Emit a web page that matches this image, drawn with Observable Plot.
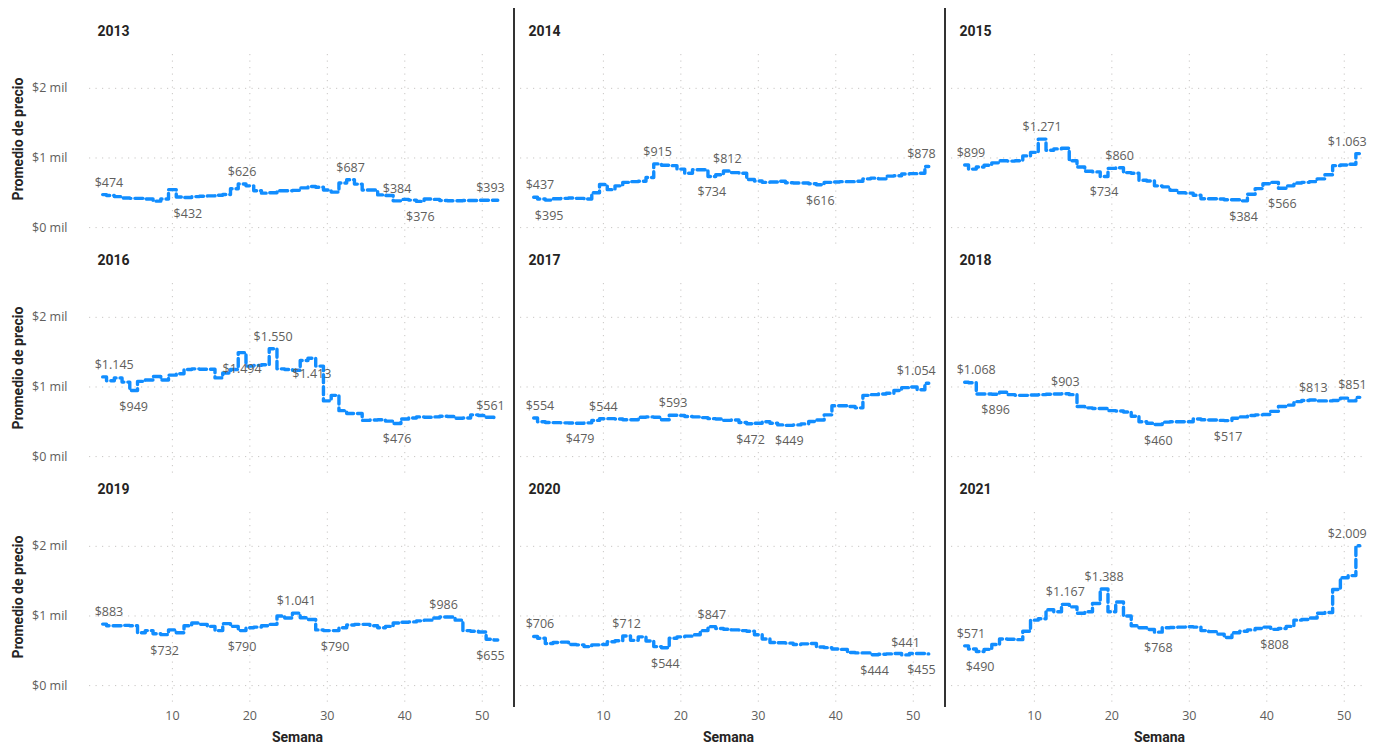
<!DOCTYPE html>
<html>
<head>
<meta charset="utf-8">
<script src="https://cdn.jsdelivr.net/npm/d3@7"></script>
<script src="https://cdn.jsdelivr.net/npm/@observablehq/plot@0.6"></script>
<style>
  html, body { margin: 0; padding: 0; background: #ffffff; }
  #chart { width: 1383px; height: 749px; }
</style>
</head>
<body>
<div id="chart"></div>
<script>
// ---------- DATA ----------
const years = [2013, 2014, 2015, 2016, 2017, 2018, 2019, 2020, 2021];
const weeks = [1,2,3,4,5,6,7,8,9,10,11,12,13,14,15,16,17,18,19,20,21,22,23,24,25,26,
               27,28,29,30,31,32,33,34,35,36,37,38,39,40,41,42,43,44,45,46,47,48,49,50,51,52];
const xTicks = [10, 20, 30, 40, 50];
const yTicks = [0, 1000, 2000];

const price2013 = [474,460,445,425,420,420,410,380,410,545, 440,432,445,450,455,465,475,557,626,600,
                   530,495,500,530,530,535,570,590,580,540, 510,640,687,625,540,540,470,460,384,405,
                   395,376,410,405,390,385,385,390,390,392, 392,393];
const price2014 = [437,410,395,415,420,425,420,410,500,620, 545,600,650,660,665,720,915,895,890,840,
                   780,830,830,734,760,812,790,780,690,670, 650,655,665,645,640,640,630,616,650,655,
                   660,660,665,700,710,700,740,745,770,775, 780,878];
const price2015 = [899,840,870,895,930,960,955,960,1030,1080, 1271,1110,1130,1140,960,870,810,800,734,850,
                   860,790,780,680,670,600,585,535,500,495, 465,415,415,410,400,400,384,480,560,630,
                   650,566,600,640,650,660,700,760,890,900, 910,1063];
const price2016 = [1145,1090,1130,1070,949,1080,1100,1150,1100,1170, 1190,1250,1260,1255,1255,1130,1200,1250,1494,1300,
                   1310,1320,1550,1260,1250,1240,1380,1413,1300,800, 880,660,620,620,520,525,530,510,476,540,
                   555,570,565,570,580,575,550,555,600,590, 565,561];
const price2017 = [554,500,490,488,485,482,479,485,520,544, 545,540,530,530,565,570,565,530,593,590,
                   575,570,560,545,540,520,525,490,472,480, 500,480,455,449,455,470,505,525,600,730,
                   730,720,700,880,890,900,910,950,990,1000, 960,1054];
const price2018 = [1068,1060,900,900,896,925,890,880,880,885, 890,895,900,903,890,720,700,690,690,660,
                   655,640,580,500,480,460,495,500,500,500, 540,530,525,520,517,550,570,590,600,605,
                   650,720,740,790,805,813,800,800,805,840, 800,851];
const price2019 = [883,860,860,865,860,760,790,745,732,800, 760,860,900,880,850,790,890,850,790,830,
                   840,860,880,1000,970,1041,975,950,800,790, 790,830,870,880,880,860,830,850,900,910,
                   915,930,940,970,986,985,940,790,780,770, 665,655];
const price2020 = [706,680,605,620,625,590,585,560,585,590, 630,645,712,650,700,640,560,544,680,700,
                   710,730,790,847,820,810,800,790,780,730, 670,620,615,610,590,600,605,555,545,525,
                   520,475,470,470,444,450,455,460,441,460, 460,455];
const price2021 = [571,525,490,520,590,670,665,660,780,940, 960,1090,1060,1167,1130,1040,1060,1180,1388,1060,
                   1200,1000,860,830,805,768,830,835,840,845, 840,790,775,740,690,760,780,800,820,840,
                   808,820,850,940,950,970,1040,1050,1380,1550, 1580,2009];

// weeks that carry a data label, and whether it sits above or below the line
const labelWeeks2013 = [1, 12, 19, 33, 39, 42, 52];
const labelSide2013  = ["top","bottom","top","top","top","bottom","top"];
const labelWeeks2014 = [1, 3, 17, 24, 26, 38, 52];
const labelSide2014  = ["top","bottom","top","bottom","top","bottom","top"];
const labelWeeks2015 = [1, 11, 19, 21, 37, 42, 52];
const labelSide2015  = ["top","top","bottom","top","bottom","bottom","top"];
const labelWeeks2016 = [1, 5, 19, 23, 28, 39, 52];
const labelSide2016  = ["top","bottom","bottom","top","bottom","bottom","top"];
const labelWeeks2017 = [1, 7, 10, 19, 29, 34, 52];
const labelSide2017  = ["top","bottom","top","top","bottom","bottom","top"];
const labelWeeks2018 = [1, 5, 14, 26, 35, 46, 52];
const labelSide2018  = ["top","bottom","top","bottom","bottom","top","top"];
const labelWeeks2019 = [1, 9, 19, 26, 31, 45, 52];
const labelSide2019  = ["top","bottom","bottom","top","bottom","top","bottom"];
const labelWeeks2020 = [1, 13, 18, 24, 45, 49, 52];
const labelSide2020  = ["top","top","bottom","top","bottom","top","bottom"];
const labelWeeks2021 = [1, 3, 14, 19, 26, 41, 52];
const labelSide2021  = ["top","bottom","top","top","bottom","bottom","top"];

const series = [price2013, price2014, price2015, price2016, price2017, price2018, price2019, price2020, price2021];
const labelWeeks = [labelWeeks2013, labelWeeks2014, labelWeeks2015, labelWeeks2016, labelWeeks2017, labelWeeks2018, labelWeeks2019, labelWeeks2020, labelWeeks2021];
const labelSides = [labelSide2013, labelSide2014, labelSide2015, labelSide2016, labelSide2017, labelSide2018, labelSide2019, labelSide2020, labelSide2021];

// ---------- TABLES ----------
const loc = d3.formatLocale({decimal: ",", thousands: ".", grouping: [3], currency: ["$", ""]});
const fmt = loc.format("$,.0f");

const panels = years.map((yr, i) => ({year: String(yr), col: i % 3, row: Math.floor(i / 3)}));
const rows = [];
const labels = [];
years.forEach((yr, i) => {
  const p = panels[i];
  series[i].forEach((v, j) => rows.push({year: yr, col: p.col, row: p.row, week: weeks[j], price: v}));
  labelWeeks[i].forEach((w, k) => {
    const v = series[i][weeks.indexOf(w)];
    labels.push({
      col: p.col, row: p.row, week: w, price: v, text: fmt(v), side: labelSides[i][k],
      anchor: w === weeks[0] ? "start" : w === weeks[weeks.length - 1] ? "end" : "middle"
    });
  });
});

const FONT = "'Segoe UI', 'Open Sans', 'Noto Sans', sans-serif";
const TITLE_FONT = "Roboto, 'DejaVu Sans', sans-serif";
const BLUE = "#118DFF";
const GRID = "#C8C6C4";
const LABEL = "#605E5C";
const DARK = "#252423";
const DASH = "8,4";

function labelMarks() {
  const out = [];
  for (const anchor of ["start", "middle", "end"]) {
    for (const side of ["top", "bottom"]) {
      out.push(Plot.text(labels.filter(d => d.anchor === anchor && d.side === side), {
        fx: "col", fy: "row", x: "week", y: "price", text: "text",
        textAnchor: anchor, lineAnchor: "middle",
        dx: anchor === "start" ? -8 : anchor === "end" ? 7 : 0,
        dy: side === "top" ? -12 : 16,
        fill: LABEL, fontSize: 12.5, fontFamily: FONT
      }));
    }
  }
  return out;
}

const leftPanels = panels.filter(p => p.col === 0);
const bottomPanels = panels.filter(p => p.row === 2);

const plot = Plot.plot({
  width: 1383,
  height: 749,
  marginLeft: 88,
  marginRight: 14,
  marginTop: 53,
  marginBottom: 44,
  style: {fontFamily: FONT, fontSize: "12.5px", color: LABEL, background: "#ffffff", overflow: "visible"},
  x: {domain: [-0.7, 53.0]},
  y: {domain: [-257, 2486]},
  fx: {domain: [0, 1, 2], paddingInner: 0.0347, paddingOuter: 0, axis: null},
  fy: {domain: [0, 1, 2], paddingInner: 0.1652, paddingOuter: 0, axis: null},
  marks: [
    Plot.gridX(xTicks, {stroke: GRID, strokeOpacity: 1, strokeWidth: 1, strokeDasharray: "1.2,5.3"}),
    Plot.gridY(yTicks, {stroke: GRID, strokeOpacity: 1, strokeWidth: 1, strokeDasharray: "1.2,5.3"}),
    Plot.axisX(xTicks, {tickSize: 0, tickPadding: 8, label: null, fontSize: 12.5}),
    Plot.axisY(yTicks, {tickSize: 0, tickPadding: 22, label: null, fontSize: 12.5,
                        tickFormat: d => `$${d / 1000} mil`}),
    Plot.lineY(rows, {
      fx: "col", fy: "row", x: "week", y: "price", z: "year",
      curve: "step", stroke: BLUE, strokeWidth: 3.4, strokeDasharray: DASH
    }),
    ...labelMarks(),
    Plot.text(panels, {
      fx: "col", fy: "row", text: "year", frameAnchor: "top-left",
      textAnchor: "start", lineAnchor: "middle", dx: 8, dy: -22.5,
      fontWeight: 700, fontSize: 14, fill: DARK, fontFamily: TITLE_FONT
    }),
    Plot.text(leftPanels, {
      fx: "col", fy: "row", text: () => "Promedio de precio", frameAnchor: "left",
      rotate: -90, textAnchor: "middle", lineAnchor: "middle", dx: -71, dy: -11,
      fontWeight: 700, fontSize: 14, fill: DARK, fontFamily: TITLE_FONT
    }),
    Plot.text(bottomPanels, {
      fx: "col", fy: "row", text: () => "Semana", frameAnchor: "bottom",
      textAnchor: "middle", lineAnchor: "middle", dy: 34,
      fontWeight: 700, fontSize: 14, fill: DARK, fontFamily: TITLE_FONT
    })
  ]
});

const svg = d3.select(plot.tagName.toLowerCase() === "svg" ? plot : plot.querySelector("svg"));
// make sure the dash pattern lands on every line path
svg.selectAll("g[aria-label='line'] path")
  .attr("stroke-dasharray", DASH);

// column dividers, placed from the facet scale
const fxScale = plot.scale("fx");
const bw = fxScale.bandwidth;
for (const c of [0, 1]) {
  const left = fxScale.apply(c) + bw;
  const right = fxScale.apply(c + 1);
  const xm = (left + right) / 2 + 1.5;
  svg.append("line")
    .attr("x1", xm).attr("x2", xm)
    .attr("y1", 8).attr("y2", 707)
    .attr("stroke", "#333333").attr("stroke-width", 2);
}

document.getElementById("chart").appendChild(plot);
</script>
</body>
</html>
